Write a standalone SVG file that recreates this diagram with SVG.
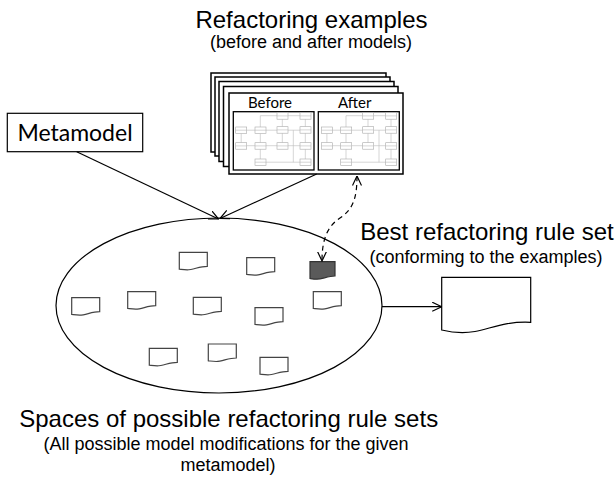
<svg xmlns="http://www.w3.org/2000/svg" xmlns:xlink="http://www.w3.org/1999/xlink" width="615" height="479" viewBox="0 0 615 479">
<style>
.frame{fill:#fff;stroke:#000;stroke-width:1.5}
.panel{fill:#fff;stroke:#000;stroke-width:1.3}
.mb{fill:#fff;stroke:#aaa;stroke-width:0.6}
.ml{fill:none;stroke:#bbb;stroke-width:0.6}
.conn{fill:none;stroke:#000;stroke-width:1.2}
.dash{fill:none;stroke:#000;stroke-width:1.2;stroke-dasharray:5,4}
.sd{fill:#fff;stroke:#444;stroke-width:1.2}
.sdd{fill:#5a5a5a;stroke:#333;stroke-width:1.2}
.arial{font-family:"Liberation Sans",Arial,sans-serif;fill:#000}
.cal{font-family:Lato,"Open Sans",sans-serif;fill:#000}
</style>
<defs>
<marker id="arr" viewBox="0 0 10 10" refX="9.5" refY="5" markerWidth="10" markerHeight="10" markerUnits="userSpaceOnUse" orient="auto-start-reverse">
<path d="M0,0.5 L9.5,5 L0,9.5" fill="none" stroke="#000" stroke-width="1.2"/>
</marker>
<path id="doc" d="M0,0 H28 V14 C20,14 14,17.5 8,17.5 C4,17.5 2,17 0,16.8 Z"/>
<g id="mini">
<path class="ml" d="M13.4,18.5 H21.7 M13.4,34 H21.7 M7.9,21.8 V31 M27,21.8 V31 M32.7,18.5 H43.7 M32.7,34 H43.7 M49,7.5 V15 M49,21.5 V31 M54.7,4 H66.7 M54.7,18.5 H66.7 M54.7,34 H66.7 M72,7.5 V15 M72,21.5 V31 M72,37.5 V47.3 M32.7,50.5 H72 M27,15.3 V4 H43.7 M27,37.5 V47.3 M60,18.5 V50.5"/>
<rect class="mb" x="2.4" y="15.3" width="11" height="6.5"/>
<rect class="mb" x="2.4" y="31" width="11" height="6.5"/>
<rect class="mb" x="21.7" y="15.3" width="11" height="6.5"/>
<rect class="mb" x="21.7" y="31" width="11" height="6.5"/>
<rect class="mb" x="21.7" y="47.3" width="11" height="6.5"/>
<rect class="mb" x="43.7" y="1" width="11" height="6.5"/>
<rect class="mb" x="43.7" y="15" width="11" height="6.5"/>
<rect class="mb" x="43.7" y="31" width="11" height="6.5"/>
<rect class="mb" x="66.7" y="1" width="11" height="6.5"/>
<rect class="mb" x="66.7" y="15" width="11" height="6.5"/>
<rect class="mb" x="66.7" y="31" width="11" height="6.5"/>
<rect class="mb" x="66.7" y="47.3" width="11" height="6.5"/>
<path class="ml" d="M2.4,18.5 H13.4 M2.4,34.2 H13.4 M21.7,18.5 H32.7 M21.7,34.2 H32.7 M21.7,50.5 H32.7 M43.7,4.2 H54.7 M43.7,18.2 H54.7 M43.7,34.2 H54.7 M66.7,4.2 H77.7 M66.7,18.2 H77.7 M66.7,34.2 H77.7 M66.7,50.5 H77.7"/>
</g>
</defs>

<g id="title-examples">
<text class="arial" x="311.5" y="28.3" font-size="24" text-anchor="middle">Refactoring examples</text>
<text class="arial" x="311" y="48.3" font-size="18" text-anchor="middle">(before and after models)</text>
</g>

<g id="examples">
<rect class="frame" x="211" y="73" width="175" height="79"/>
<rect class="frame" x="215" y="77" width="175" height="79"/>
<rect class="frame" x="219" y="81.5" width="175" height="80"/>
<rect class="frame" x="223.5" y="86.5" width="174.5" height="80"/>
<rect class="frame" x="229" y="93" width="174" height="81"/>
<text class="cal" x="270" y="108.3" font-size="15" text-anchor="middle">Before</text>
<text class="cal" x="354.7" y="107.5" font-size="15" text-anchor="middle">After</text>
<rect class="panel" x="233.3" y="111.7" width="80.7" height="58.3"/>
<rect class="panel" x="318.3" y="111.7" width="81" height="58.3"/>
<use xlink:href="#mini" x="233.3" y="111.7"/>
<use xlink:href="#mini" x="319" y="111.7"/>
</g>

<g id="metamodel">
<rect x="7.3" y="113.3" width="135.4" height="38.4" fill="#fff" stroke="#000" stroke-width="1.2"/>
<text class="cal" x="75" y="141" font-size="23" text-anchor="middle">Metamodel</text>
</g>

<g id="space">
<ellipse cx="219" cy="305.5" rx="163" ry="87.5" fill="#fff" stroke="#000" stroke-width="1.2"/>
<use xlink:href="#doc" class="sd" x="179.3" y="252.3"/>
<use xlink:href="#doc" class="sd" x="246.7" y="257.7"/>
<use xlink:href="#doc" class="sd" x="71.7" y="297.7"/>
<use xlink:href="#doc" class="sd" x="127.7" y="291.7"/>
<use xlink:href="#doc" class="sd" x="193.3" y="297.3"/>
<use xlink:href="#doc" class="sd" x="313.3" y="291.7"/>
<use xlink:href="#doc" class="sd" x="255" y="307.7"/>
<use xlink:href="#doc" class="sd" x="149.3" y="348.3"/>
<use xlink:href="#doc" class="sd" x="208.3" y="344"/>
<use xlink:href="#doc" class="sd" x="260" y="357.3"/>
</g>

<g id="best-candidate">
<path class="sdd" d="M310,261.7 H335 V276 C328,276 322,279.2 317,279.2 C313.5,279.2 311.7,278.8 310,278.5 Z"/>
</g>

<g id="space-label">
<text class="arial" x="228.7" y="427.3" font-size="24" text-anchor="middle">Spaces of possible refactoring rule sets</text>
<text class="arial" x="226" y="450" font-size="18" text-anchor="middle">(All possible model modifications for the given</text>
<text class="arial" x="228" y="471" font-size="18" text-anchor="middle">metamodel)</text>
</g>

<g id="best-label">
<text class="arial" x="487" y="240" font-size="24" text-anchor="middle">Best refactoring rule set</text>
<text class="arial" x="486" y="263.3" font-size="18" text-anchor="middle">(conforming to the examples)</text>
</g>

<g id="result">
<path d="M441.7,277.3 H530.7 V322.3 C505,321 490,329 475,331.5 C460,334 450,332 441.7,330 Z" fill="#fff" stroke="#000" stroke-width="1.2"/>
</g>

<g id="connectors">
<path class="conn" d="M76.7,151.7 L218.5,219" marker-end="url(#arr)"/>
<path class="conn" d="M316.7,174 L220,218.5" marker-end="url(#arr)"/>
<path class="conn" d="M382,306.7 L441.7,306.7" marker-end="url(#arr)"/>
<path class="dash" d="M357,176 C357,200 352,210 340,218 C328,226 322,238 322,261" marker-start="url(#arr)" marker-end="url(#arr)"/>
</g>
</svg>
